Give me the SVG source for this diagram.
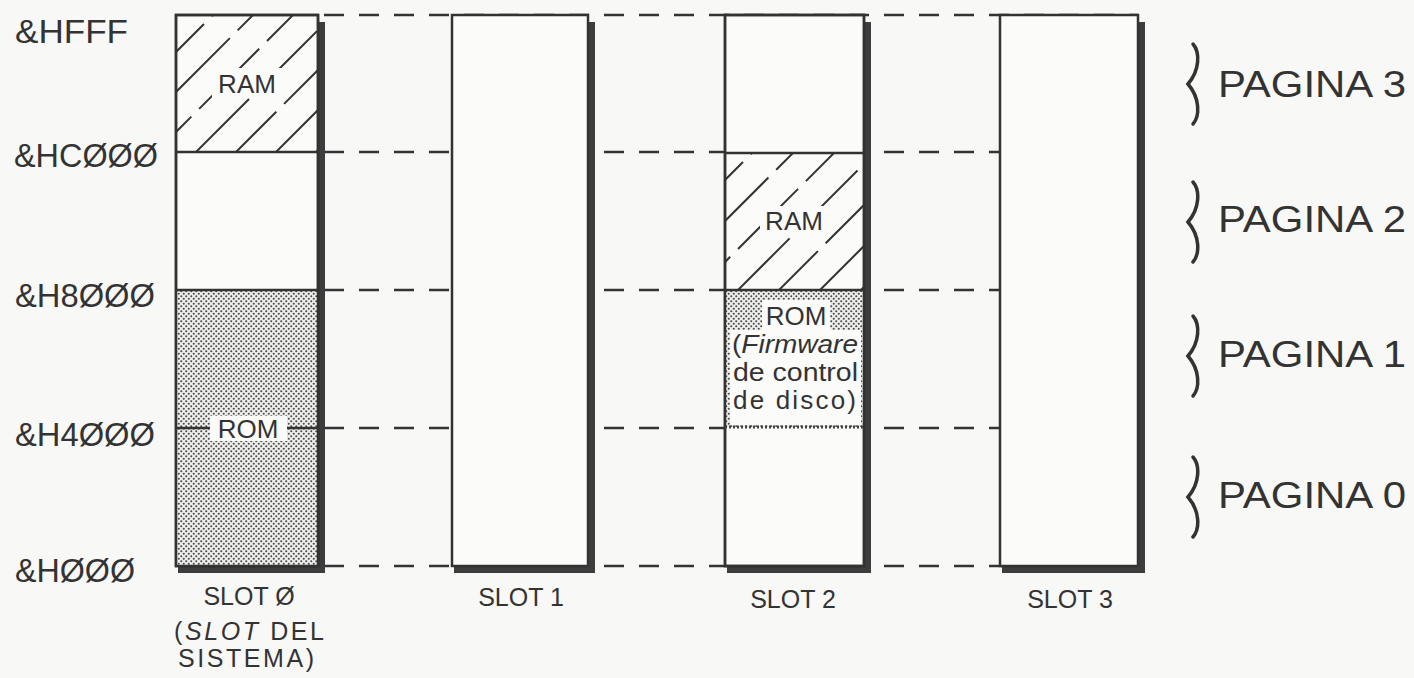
<svg xmlns="http://www.w3.org/2000/svg" width="1414" height="678" viewBox="0 0 1414 678">
<defs>
<style>
.lbl{font-family:"Liberation Sans",Arial,sans-serif;fill:#333;}
.addr{font-size:34px;}
.pg{font-size:36px;}
.sl{font-size:25px;}
.in{font-size:26px;}
.box{fill:#fbfbfa;stroke:#333;stroke-width:2.5;}
.outline{fill:none;stroke:#333;stroke-width:2.5;}
.sh{fill:#3d3d3d;}
.dash{stroke:#333;stroke-width:2.5;stroke-dasharray:20 15;fill:none;}
.solid{stroke:#333;stroke-width:2.5;fill:none;}
.hatch{stroke:#333;stroke-width:2;stroke-dasharray:85 11;fill:none;}
.brace{fill:none;stroke:#333;stroke-width:3.5;stroke-linecap:round;}
</style>
<pattern id="dots" width="5" height="5" patternUnits="userSpaceOnUse">
<rect width="5" height="5" fill="#eeeeec"/>
<circle cx="1.25" cy="1.25" r="1.05" fill="#4a4a4a"/>
<circle cx="3.75" cy="3.75" r="1.05" fill="#4a4a4a"/>
</pattern>
<clipPath id="ram0"><rect x="177" y="16" width="140" height="135"/></clipPath>
<clipPath id="ram2"><rect x="726" y="154" width="137" height="135"/></clipPath>
<path id="br" d="M1193,-40 C1200,-32 1200,-14 1188,0 C1200,14 1200,32 1193,40"/>
</defs>
<rect width="1414" height="678" fill="#f8f8f6"/>

<g id="connectors">
<line class="dash" x1="324" y1="15" x2="1138" y2="15"/>
<line class="dash" x1="324" y1="152" x2="1138" y2="152"/>
<line class="dash" x1="324" y1="290" x2="1138" y2="290"/>
<line class="dash" x1="324" y1="428" x2="1138" y2="428"/>
<line class="dash" x1="324" y1="566" x2="1138" y2="566"/>
</g>

<g id="addresses" class="lbl addr">
<text x="15" y="43" textLength="113" lengthAdjust="spacingAndGlyphs">&amp;HFFF</text>
<text x="14" y="167" textLength="144" lengthAdjust="spacingAndGlyphs">&amp;HCØØØ</text>
<text x="15" y="307" textLength="140" lengthAdjust="spacingAndGlyphs">&amp;H8ØØØ</text>
<text x="15" y="446" textLength="140" lengthAdjust="spacingAndGlyphs">&amp;H4ØØØ</text>
<text x="15" y="582" textLength="120" lengthAdjust="spacingAndGlyphs">&amp;HØØØ</text>
</g>

<g id="slot0">
<rect class="sh" x="318" y="22" width="7" height="551"/>
<rect class="sh" x="178" y="566" width="147" height="7"/>
<rect class="box" x="176" y="15" width="142" height="551"/>
<rect x="177" y="290" width="140" height="275" fill="url(#dots)"/>
<g clip-path="url(#ram0)">
<line class="hatch" x1="76" y1="152" x2="213" y2="15"/>
<line class="hatch" x1="116" y1="152" x2="253" y2="15" stroke-dashoffset="20"/>
<line class="hatch" x1="156" y1="152" x2="293" y2="15" stroke-dashoffset="35"/>
<line class="hatch" x1="196" y1="152" x2="333" y2="15" stroke-dashoffset="10"/>
<line class="hatch" x1="236" y1="152" x2="373" y2="15" stroke-dashoffset="28"/>
<line class="hatch" x1="276" y1="152" x2="413" y2="15" stroke-dashoffset="5"/>
<line class="hatch" x1="316" y1="152" x2="453" y2="15" stroke-dashoffset="40"/>
</g>
<rect x="212" y="68" width="70" height="30" fill="#fbfbfa"/>
<text class="lbl in" x="247" y="93" text-anchor="middle">RAM</text>
<rect class="outline" x="176" y="15" width="142" height="551"/>
<line class="solid" x1="176" y1="152" x2="318" y2="152"/>
<line class="solid" x1="176" y1="290" x2="318" y2="290"/>
<line class="solid" x1="176" y1="428" x2="318" y2="428"/>
<rect x="210" y="416" width="77" height="25" fill="#fbfbfa"/>
<text class="lbl in" x="248" y="438" text-anchor="middle">ROM</text>
<text class="lbl sl" x="249" y="605" text-anchor="middle">SLOT Ø</text>
<text class="lbl sl" x="249" y="640" text-anchor="middle" textLength="150" lengthAdjust="spacing">(<tspan font-style="italic">SLOT</tspan> DEL</text>
<text class="lbl sl" x="246" y="667" text-anchor="middle" textLength="136" lengthAdjust="spacing">SISTEMA)</text>
</g>

<g id="slot1">
<rect class="sh" x="588" y="22" width="7" height="551"/>
<rect class="sh" x="454" y="566" width="141" height="7"/>
<rect class="box" x="452" y="15" width="136" height="551"/>
<text class="lbl sl" x="521" y="606" text-anchor="middle">SLOT 1</text>
</g>

<g id="slot2">
<rect class="sh" x="864" y="22" width="7" height="551"/>
<rect class="sh" x="727" y="566" width="144" height="7"/>
<rect class="box" x="725" y="15" width="139" height="551"/>
<g clip-path="url(#ram2)">
<line class="hatch" x1="615" y1="290" x2="752" y2="153"/>
<line class="hatch" x1="656" y1="290" x2="793" y2="153" stroke-dashoffset="22"/>
<line class="hatch" x1="697" y1="290" x2="834" y2="153" stroke-dashoffset="38"/>
<line class="hatch" x1="738" y1="290" x2="875" y2="153" stroke-dashoffset="12"/>
<line class="hatch" x1="779" y1="290" x2="916" y2="153" stroke-dashoffset="30"/>
<line class="hatch" x1="820" y1="290" x2="957" y2="153" stroke-dashoffset="6"/>
<line class="hatch" x1="861" y1="290" x2="998" y2="153" stroke-dashoffset="42"/>
</g>
<rect x="760" y="206" width="68" height="30" fill="#fbfbfa"/>
<text class="lbl in" x="794" y="230" text-anchor="middle">RAM</text>
<rect x="726" y="291" width="137" height="136" fill="url(#dots)"/>
<path d="M762,300 H830 V330 H861 V425 H730 V330 H762 Z" fill="#fbfbfa"/>
<text class="lbl in" x="796" y="325" text-anchor="middle">ROM</text>
<text class="lbl in" x="732" y="353" textLength="126" lengthAdjust="spacingAndGlyphs">(<tspan font-style="italic">Firmware</tspan></text>
<text class="lbl in" x="733" y="381" textLength="125" lengthAdjust="spacingAndGlyphs">de control</text>
<text class="lbl in" x="733" y="409" textLength="123" lengthAdjust="spacing">de  disco)</text>
<rect class="outline" x="725" y="15" width="139" height="551"/>
<line class="solid" x1="725" y1="153" x2="864" y2="153"/>
<line class="solid" x1="725" y1="290" x2="864" y2="290"/>
<line x1="725" y1="427" x2="864" y2="427" stroke="#444" stroke-width="3" stroke-dasharray="2 2"/>
<text class="lbl sl" x="793" y="608" text-anchor="middle">SLOT 2</text>
</g>

<g id="slot3">
<rect class="sh" x="1138" y="22" width="7" height="551"/>
<rect class="sh" x="1002" y="566" width="143" height="7"/>
<rect class="box" x="1000" y="15" width="138" height="551"/>
<text class="lbl sl" x="1070" y="608" text-anchor="middle">SLOT 3</text>
</g>

<g id="pages">
<use href="#br" class="brace" transform="translate(0,84)"/>
<use href="#br" class="brace" transform="translate(0,222)"/>
<use href="#br" class="brace" transform="translate(0,356)"/>
<use href="#br" class="brace" transform="translate(0,497)"/>
<text class="lbl pg" x="1218" y="97" textLength="188" lengthAdjust="spacingAndGlyphs">PAGINA 3</text>
<text class="lbl pg" x="1218" y="232" textLength="188" lengthAdjust="spacingAndGlyphs">PAGINA 2</text>
<text class="lbl pg" x="1218" y="367" textLength="188" lengthAdjust="spacingAndGlyphs">PAGINA 1</text>
<text class="lbl pg" x="1218" y="508" textLength="188" lengthAdjust="spacingAndGlyphs">PAGINA 0</text>
</g>
</svg>
